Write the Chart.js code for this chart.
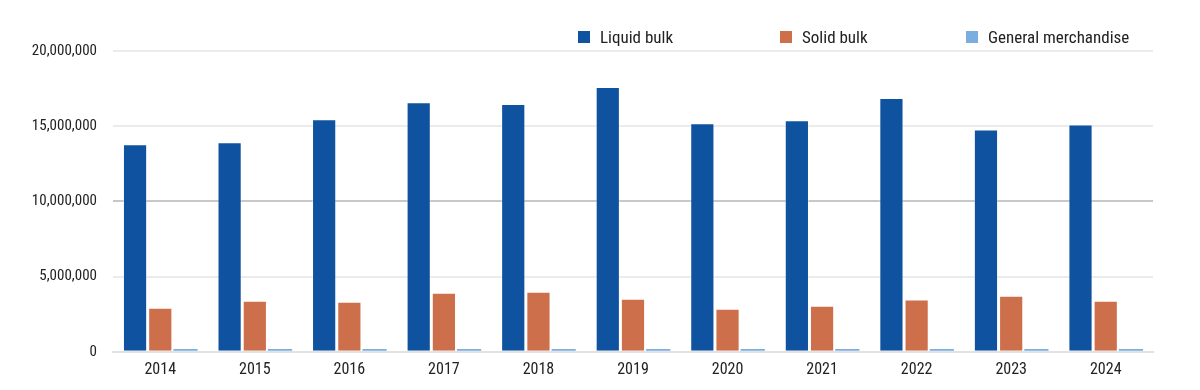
<!DOCTYPE html>
<html>
<head>
<meta charset="utf-8">
<script src="https://cdn.jsdelivr.net/npm/chart.js@4/dist/chart.umd.min.js"></script>
<style>
  html, body { margin: 0; padding: 0; background: #fff; }
  #wrap { position: relative; width: 1200px; height: 390px; }
  #legend { position: absolute; top: 27px; left: 0; width: 1200px; height: 22px;
            font-family: 'Roboto Condensed', sans-serif; font-size: 17px; color: #222; }
  #legend .item { position: absolute; top: 0; display: flex; align-items: center; }
  #legend .box { width: 12px; height: 12px; margin-right: 10px; }
</style>
</head>
<body>
<div id="wrap">
  <canvas id="chart" width="1200" height="390"></canvas>
  <div id="legend"></div>
</div>
<script>
// Datos
const years = ['2014', '2015', '2016', '2017', '2018', '2019', '2020', '2021', '2022', '2023', '2024'];
const liquidBulk = [13800000, 13930000, 15470000, 16600000, 16470000, 17600000, 15200000, 15400000, 16870000, 14780000, 15110000];
const solidBulk = [2930000, 3400000, 3330000, 3930000, 4000000, 3530000, 2870000, 3070000, 3470000, 3730000, 3400000];
const generalMerch = [190000, 190000, 190000, 190000, 190000, 190000, 190000, 190000, 190000, 190000, 190000];
const yTicks = [0, 5000000, 10000000, 15000000, 20000000];

const seriesNames = ['Liquid bulk', 'Solid bulk', 'General merchandise'];
const seriesColors = ['#0f52a0', '#cd6f4a', '#7aaee0'];
const seriesBorders = ['rgba(255, 255, 255, 0.35)', 'rgba(255, 255, 255, 0.35)', '#7aaee0'];
const legendLeft = [578, 780, 966];

const fontFamily = "'Roboto Condensed', sans-serif";

const ctx = document.getElementById('chart').getContext('2d');
const chart = new Chart(ctx, {
    type: 'bar',
    data: {
        labels: years,
        datasets: [liquidBulk, solidBulk, generalMerch].map(function(values, i) {
            return {
                label: seriesNames[i],
                data: values,
                backgroundColor: seriesColors[i],
                borderColor: seriesBorders[i],
                borderWidth: i === 2 ? 0 : 1,
                categoryPercentage: 0.8,
                barPercentage: 0.96
            };
        })
    },
    options: {
        responsive: false,
        animation: false,
        layout: { padding: { top: 51, right: 47, left: 0, bottom: 9 } },
        plugins: {
            legend: { display: false },
            tooltip: { enabled: false }
        },
        scales: {
            x: {
                grid: { display: false },
                border: { color: '#e2e2e2', width: 2 },
                ticks: { color: '#222', font: { family: fontFamily, size: 16 }, padding: 1 }
            },
            y: {
                min: 0,
                max: 20000000,
                afterBuildTicks: function(axis) {
                    axis.ticks = yTicks.map(function(v) { return { value: v }; });
                },
                afterFit: function(axis) { axis.width = 113; },
                border: { display: false },
                grid: {
                    drawTicks: false,
                    lineWidth: 2,
                    color: function(c) { return c.tick && c.tick.value === 10000000 ? '#c8c8c8' : '#ebebeb'; }
                },
                ticks: {
                    color: '#222',
                    padding: 16,
                    font: { family: fontFamily, size: 15 },
                    callback: function(v) { return v.toLocaleString('en-US'); }
                }
            }
        }
    }
});

// Leyenda en HTML, arriba a la derecha
const legend = document.getElementById('legend');
seriesNames.forEach(function(name, i) {
    const item = document.createElement('div');
    item.className = 'item';
    item.style.left = legendLeft[i] + 'px';
    item.innerHTML = '<span class="box" style="background:' + seriesColors[i] + '"></span>' + name;
    legend.appendChild(item);
});
</script>
</body>
</html>
